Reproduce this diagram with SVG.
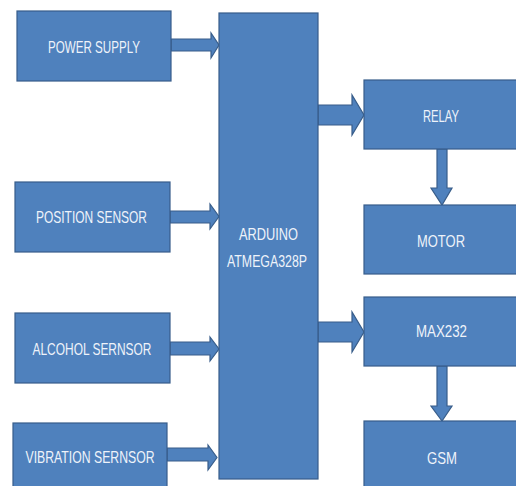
<svg xmlns="http://www.w3.org/2000/svg" width="516" height="486" viewBox="0 0 516 486">
<style>
.box{fill:#4F81BD;stroke:#385D8A;stroke-width:1.2}
.arr{fill:#4F81BD;stroke:#385D8A;stroke-width:1.2;stroke-linejoin:miter}
.lbl{font-family:"Liberation Sans Narrow","Liberation Sans",Arial,sans-serif;font-size:17px;fill:#EEF3FA;text-anchor:middle}
</style>
<rect width="516" height="486" fill="#FFFFFF"/>
<g id="connectors">
<polygon class="arr" points="171,39 211,39 211,33 219,45 211,58 211,51 171,51"/>
<polygon class="arr" points="170,211 210,211 210,204 219,216.5 210,229 210,223 170,223"/>
<polygon class="arr" points="170,342 210,342 210,337 219,349 210,361 210,355 170,355"/>
<polygon class="arr" points="167,448 208,448 208,445 217,457.5 208,470 208,461 167,461"/>
<polygon class="arr" points="318,105 352,105 352,95 364,115 352,135 352,125 318,125"/>
<polygon class="arr" points="318,322 352,322 352,312 364,332 352,352 352,342 318,342"/>
<polygon class="arr" points="437,149 447,149 447,188 452,188 442,205 431,188 437,188"/>
<polygon class="arr" points="437,366 447,366 447,406 452,406 442,421 431,406 437,406"/>
</g>
<g id="power-supply">
<rect class="box" x="17" y="11" width="154" height="70"/>
<text class="lbl" x="94" y="53" textLength="92" lengthAdjust="spacingAndGlyphs">POWER SUPPLY</text>
</g>
<g id="position-sensor">
<rect class="box" x="15" y="182" width="155" height="70"/>
<text class="lbl" x="91.5" y="222.5" textLength="111" lengthAdjust="spacingAndGlyphs">POSITION SENSOR</text>
</g>
<g id="alcohol-sensor">
<rect class="box" x="15" y="313" width="155" height="70"/>
<text class="lbl" x="92" y="355" textLength="119" lengthAdjust="spacingAndGlyphs">ALCOHOL SERNSOR</text>
</g>
<g id="vibration-sensor">
<rect class="box" x="13" y="423" width="154" height="70"/>
<text class="lbl" x="90" y="463" textLength="129" lengthAdjust="spacingAndGlyphs">VIBRATION SERNSOR</text>
</g>
<g id="arduino">
<rect class="box" x="219" y="13" width="99" height="466"/>
<text class="lbl" x="268.5" y="240" textLength="59" lengthAdjust="spacingAndGlyphs">ARDUINO</text>
<text class="lbl" x="267" y="267" textLength="80" lengthAdjust="spacingAndGlyphs">ATMEGA328P</text>
</g>
<g id="relay">
<rect class="box" x="364" y="80" width="160" height="69"/>
<text class="lbl" x="441" y="122" textLength="36" lengthAdjust="spacingAndGlyphs">RELAY</text>
</g>
<g id="motor">
<rect class="box" x="364" y="205" width="160" height="69"/>
<text class="lbl" x="441" y="247" textLength="48" lengthAdjust="spacingAndGlyphs">MOTOR</text>
</g>
<g id="max232">
<rect class="box" x="364" y="297" width="160" height="69"/>
<text class="lbl" x="441.5" y="337" textLength="51" lengthAdjust="spacingAndGlyphs">MAX232</text>
</g>
<g id="gsm">
<rect class="box" x="364" y="421" width="160" height="72"/>
<text class="lbl" x="442" y="464" textLength="30" lengthAdjust="spacingAndGlyphs">GSM</text>
</g>
</svg>
